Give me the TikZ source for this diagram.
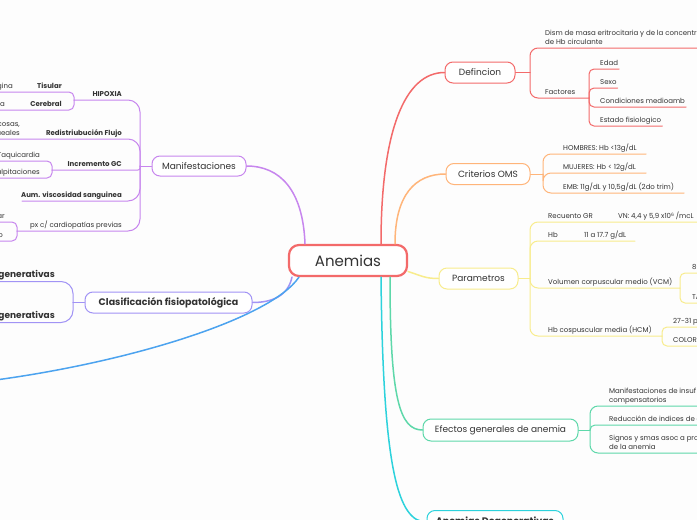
\documentclass[tikz,border=0pt]{standalone}
\usepackage{fontspec}
\setmainfont{Poppins}
\definecolor{bg}{HTML}{FDFDFD}
\definecolor{txt}{HTML}{333333}
\definecolor{cred}{HTML}{F36A6A}
\definecolor{corange}{HTML}{FFB57A}
\definecolor{cyellow}{HTML}{F8EC8C}
\definecolor{cgreen}{HTML}{5ED8AA}
\definecolor{ccyan}{HTML}{2DD2DC}
\definecolor{cpurple}{HTML}{C786EE}
\definecolor{clav}{HTML}{A193F5}
\definecolor{cblue}{HTML}{4CA3EF}
\begin{document}
\begin{tikzpicture}[x=1pt,y=-1pt, line cap=round,
  every node/.style={text=txt},
  topic/.style={draw, line width=1pt, rounded corners=8pt, fill=white, inner sep=0pt, minimum height=21pt, font=\fontsize{9}{11}\selectfont},
  lb/.style={inner xsep=1pt, inner ysep=2pt, text depth=1.8pt, anchor=south west, align=left, font=\fontsize{7}{9}\selectfont},
  lbr/.style={lb, anchor=south east, align=right},
  bl/.style={font=\fontsize{7}{9}\selectfont\bfseries},
  conn/.style={line width=1.5pt},
  sub/.style={line width=1pt, rounded corners=8pt},
  subl/.style={line width=1pt, rounded corners=12pt},
  subs/.style={line width=1pt, rounded corners=5pt},
]
\fill[bg] (0,0) rectangle (697,520);
\useasboundingbox (0,0) rectangle (697,520);
\clip (0,0) rectangle (697,520);

% central
\node[draw=cred, line width=2.2pt, rounded corners=10pt, minimum width=118pt, minimum height=31pt, inner sep=0pt, fill=white, font=\fontsize{15}{18}\selectfont] (anem) at (348,260.5) {Anemias};

% ---------- Defincion
\node[topic, draw=cred, minimum width=70pt] (def) at (480,72.5) {Defincion};
\draw[conn, cred] ([xshift=33pt]anem.north) .. controls (381,130) and (405,72.5) .. (def.west);
\coordinate (defF) at (530,72.5);
\draw[sub, cred] (def.east) -- (defF);
\node[lb] (dism) at (544,48) {Dism de masa eritrocitaria y de la concentración\\de Hb circulante};
\coordinate (dismE) at (705,48);
\draw[sub, cred] (defF) |- (dismE);
\node[lb] (fac) at (544,98) {Factores};
\coordinate (facF) at (589,98);
\draw[sub, cred] (defF) |- (facF);
\node[lb] (edad) at (599,69) {Edad};
\node[lb] (sexo) at (599,88) {Sexo};
\node[lb] (cond) at (599,107) {Condiciones medioamb};
\node[lb] (est) at (599,126) {Estado fisiologico};
\draw[subs, cred] (facF) |- (edad.south east);
\draw[subs, cred] (facF) |- (sexo.south east);
\draw[subs, cred] (facF) |- (cond.south east);
\draw[subs, cred] (facF) |- (est.south east);

% ---------- Criterios OMS
\node[topic, draw=corange, minimum width=84pt] (oms) at (488,174) {Criterios OMS};
\draw[conn, corange] ([xshift=47pt]anem.north) .. controls (395,195) and (415,174) .. (oms.west);
\coordinate (omsF) at (543,174);
\draw[sub, corange] (oms.east) -- (omsF);
\node[lb] (hom) at (562,154) {HOMBRES: Hb <13g/dL};
\node[lb] (muj) at (562,173) {MUJERES: Hb < 12g/dL};
\node[lb] (emb) at (562,193) {EMB: 11g/dL y 10,5g/dL (2do trim)};
\coordinate (homE) at (646,154);
\coordinate (mujE) at (646,173);
\coordinate (embE) at (684,193);
\draw[sub, corange] (omsF) |- (homE);
\draw[sub, corange] (omsF) |- (mujE);
\draw[sub, corange] (omsF) |- (embE);

% ---------- Parametros
\node[topic, draw=cyellow, minimum width=79pt] (par) at (478.5,278.5) {Parametros};
\draw[conn, cyellow] ([yshift=-11pt]anem.east) .. controls (422,276) and (425,278.5) .. (par.west);
\coordinate (parF) at (530,278.5);
\draw[sub, cyellow] (par.east) -- (parF);
\node[lb] (rec) at (547,222) {Recuento GR};
\node[lb] (vn) at (617,222) {VN: 4,4 y 5,9 x10\raisebox{2pt}{\fontsize{4.5}{5}\selectfont 6} /mcL};
\coordinate (recE) at (705,222);
\draw[sub, cyellow] (parF) |- (recE);
\node[lb] (hb) at (547,241) {Hb};
\node[lb] (hbv) at (583,241) {11 a 17.7 g/dL};
\coordinate (hbE) at (635,241);
\draw[sub, cyellow] (parF) |- (hbE);
\node[lb] (vcm) at (547,288) {Volumen corpuscular medio (VCM)};
\coordinate (vcmF) at (680,288);
\draw[sub, cyellow] (parF) |- (vcmF);
\node[lb] (vcma) at (691,273) {80-100 fL};
\node[lb] (vcmb) at (691,303) {TAMAÑO};
\coordinate (vcmaE) at (705,273);
\coordinate (vcmbE) at (705,303);
\draw[subs, cyellow] (vcmF) |- (vcmaE);
\draw[subs, cyellow] (vcmF) |- (vcmbE);
\node[lb] (hcm) at (547,336) {Hb cospuscular media (HCM)};
\coordinate (hcmF) at (662,336);
\draw[sub, cyellow] (parF) |- (hcmF);
\node[lb] (hcma) at (672,327) {27-31 pg};
\node[lb] (hcmb) at (672,346) {COLOR};
\coordinate (hcmaE) at (705,327);
\coordinate (hcmbE) at (705,346);
\draw[subs, cyellow] (hcmF) |- (hcmaE);
\draw[subs, cyellow] (hcmF) |- (hcmbE);

% ---------- Efectos generales
\node[topic, draw=cgreen, minimum width=155pt, minimum height=22pt] (efe) at (500.5,430) {Efectos generales de anemia};
\draw[conn, cgreen] ([xshift=42pt]anem.south) .. controls (390,400) and (400,430) .. (efe.west);
\coordinate (efeF) at (590,430);
\draw[sub, cgreen] (efe.east) -- (efeF);
\node[lb] (efa) at (608,406) {Manifestaciones de insuf tisular y mecanismos\\compensatorios};
\node[lb] (efb) at (608,425) {Reducción de indices de eritrocitos};
\node[lb] (efc) at (608,453) {Signos y smas asoc a proceso causal\\de la anemia};
\coordinate (efaE) at (705,406);
\coordinate (efbE) at (705,425);
\coordinate (efcE) at (705,453);
\draw[sub, cgreen] (efeF) |- (efaE);
\draw[subs, cgreen] (efeF) |- (efbE);
\draw[sub, cgreen] (efeF) |- (efcE);

% ---------- Anemias Degenerativas
\node[topic, draw=ccyan, minimum width=136pt, minimum height=23pt, font=\fontsize{9.5}{11}\selectfont\bfseries] (deg) at (495,522) {Anemias Degenerativas};
\draw[conn, ccyan] ([xshift=33pt]anem.south) .. controls (383,470) and (398,522) .. (deg.west);

% ---------- Manifestaciones
\node[topic, draw=cpurple, minimum width=94pt, minimum height=20pt] (man) at (199,166) {Manifestaciones};
\draw[conn, cpurple] ([xshift=-43pt]anem.north) .. controls (303,190) and (280,166) .. (man.east);
\coordinate (manF) at (140,166);
\draw[sub, cpurple] (man.west) -- (manF);
% HIPOXIA
\node[lbr, bl] (hip) at (123,100) {HIPOXIA};
\coordinate (hipF) at (74,100);
\draw[subl, cpurple] (manF) |- (hipF);
\node[lbr, bl] (tis) at (63,92) {Tisular};
\node[lbr] (tisa) at (14,92) {Angina};
\coordinate (tisE) at (-5,92);
\draw[subs, cpurple] (hipF) |- (tisE);
\node[lbr, bl] (cer) at (63,110) {Cerebral};
\node[lbr] (cera) at (6,110) {Cefalea, confusa};
\coordinate (cerE) at (-5,110);
\draw[subs, cpurple] (hipF) |- (cerE);
% Redistribucion
\node[lbr, bl] (red) at (123,139) {Redistriubución Flujo};
\node[lbr] (reda) at (21,139) {Palidez de mucosas,\\lechos ungueales};
\coordinate (redE) at (-5,139);
\draw[subl, cpurple] (manF) |- (redE);
% Incremento GC
\node[lbr, bl] (inc) at (123,170) {Incremento GC};
\coordinate (incF) at (52,170);
\draw[line width=1pt, rounded corners=2pt, cpurple] (manF) |- (incF);
\node[lbr] (taq) at (41,161) {Taquicardia};
\node[lbr] (pal) at (41,178) {Palpitaciones};
\coordinate (taqE) at (-5,161);
\coordinate (palE) at (-5,178);
\draw[subs, cpurple] (incF) |- (taqE);
\draw[subs, cpurple] (incF) |- (palE);
% Aum viscosidad
\node[lbr, bl] (aum) at (123,201) {Aum. viscosidad sanguinea};
\coordinate (aumE) at (22,201);
\draw[subl, cpurple] (manF) |- (aumE);
% px c/
\node[lbr] (px) at (123,231) {px c/ cardiopatías previas};
\coordinate (pxF) at (17,231);
\draw[subl, cpurple] (manF) |- (pxF);
\node[lbr] (pxa) at (6,222) {Exacerbar};
\node[lbr] (pxb) at (4,241) {Infarto};
\coordinate (pxaE) at (-5,222);
\coordinate (pxbE) at (-5,241);
\draw[subs, cpurple] (pxF) |- (pxaE);
\draw[subs, cpurple] (pxF) |- (pxbE);

% ---------- Clasificacion
\node[topic, draw=clav, minimum width=167pt, font=\fontsize{9.5}{11}\selectfont\bfseries] (cla) at (168.5,302.5) {Clasificación fisiopatológica};
\draw[conn, clav] ([xshift=-56pt]anem.south) .. controls (288,296) and (272,302.5) .. (cla.east);
\coordinate (claF) at (73,302.5);
\draw[sub, clav] (cla.west) -- (claF);
\node[lbr, font=\fontsize{9}{11}\selectfont\bfseries] (rgn) at (56,281.5) {Anemias Regenerativas};
\node[lbr, font=\fontsize{9}{11}\selectfont\bfseries] (dgn) at (56,322.5) {Anemias Degenerativas};
\coordinate (rgnE) at (-5,281.5);
\coordinate (dgnE) at (-5,322.5);
\draw[subl, clav] (claF) |- (rgnE);
\draw[subl, clav] (claF) |- (dgnE);

% ---------- blue branch
\coordinate (blueE) at (-20,382);
\draw[conn, cblue] ([xshift=-49pt]anem.south) .. controls (270,320) and (120,365) .. (blueE);
\end{tikzpicture}
\end{document}
